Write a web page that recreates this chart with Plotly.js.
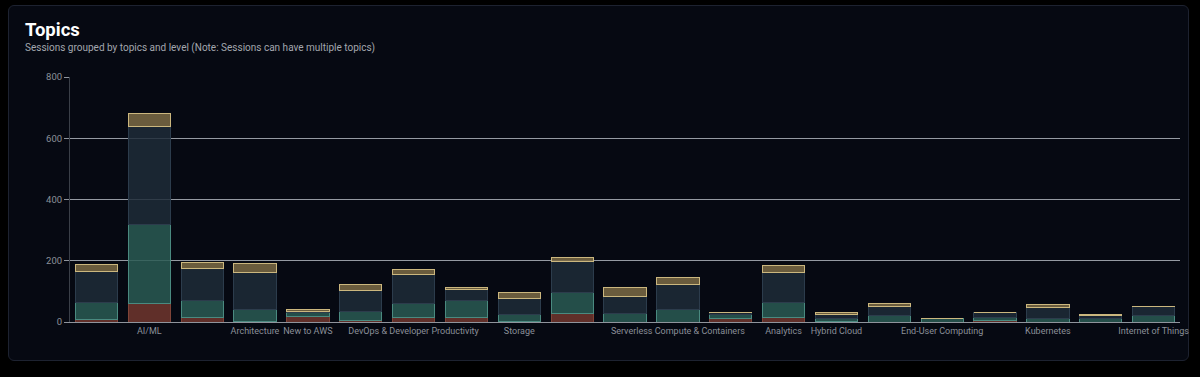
<!DOCTYPE html>
<html>
<head>
<meta charset="utf-8">
<script src="https://cdn.plot.ly/plotly-3.0.1.min.js"></script>
<style>
  html, body { margin:0; padding:0; width:1200px; height:377px; background:#000; overflow:hidden; font-family: Roboto, "Noto Sans", sans-serif; }
  #card { position:absolute; left:8px; top:5px; width:1181px; height:356px; background:#060912; border:1px solid #1d2230; border-radius:6px; box-sizing:border-box; }
  #title { position:absolute; left:25px; top:19px; color:#ffffff; font-size:18.5px; font-weight:700; }
  #sub { position:absolute; left:25px; top:42px; color:#a3a7ae; font-size:10px; }
  #chart { position:absolute; left:0; top:0; width:1200px; height:377px; }
</style>
</head>
<body>
<div id="card"></div>
<div id="title">Topics</div>
<div id="sub">Sessions grouped by topics and level (Note: Sessions can have multiple topics)</div>
<div id="chart"></div>
<script>
const categories = [
  "Migration & Modernization", "AI/ML", "Security, Identity & Compliance", "Architecture",
  "New to AWS", "Cloud Operations", "DevOps & Developer Productivity", "Databases",
  "Storage", "Compute", "Networking & Content Delivery", "Serverless Compute & Containers",
  "Business Applications", "Analytics", "Hybrid Cloud", "Industry Solutions",
  "End-User Computing", "Application Integration", "Kubernetes", "Media & Entertainment",
  "Internet of Things"
];
const tickLabels = ["AI/ML", "Architecture", "New to AWS", "DevOps & Developer Productivity",
  "Storage", "Serverless Compute & Containers", "Analytics", "Hybrid Cloud",
  "End-User Computing", "Kubernetes", "Internet of Things"];

const level100 = [7, 62, 15, 2, 17, 5, 16, 16, 2, 28, 0, 0, 12, 16, 2, 0, 0, 6, 0, 0, 0];
const level200 = [58, 258, 56, 40, 13, 28, 46, 55, 23, 69, 29, 42, 11, 48, 10, 20, 10, 8, 12, 12, 21];
const level300 = [100, 320, 103, 121, 5, 69, 93, 35, 51, 100, 54, 80, 8, 97, 12, 30, 0, 16, 35, 9, 29];
const level400 = [23, 40, 20, 27, 6, 20, 16, 7, 19, 13, 30, 23, 1, 24, 6, 9, 0, 0, 10, 5, 0];

const seriesNames = ["100 - Foundational", "200 - Intermediate", "300 - Advanced", "400 - Expert"];
const seriesValues = [level100, level200, level300, level400];
const fills = ["rgba(106,52,44,0.9)", "rgba(42,90,84,0.85)", "rgba(30,43,56,0.85)", "rgba(118,102,66,0.9)"];
const strokes = ["#804438", "#4a8a80", "#2c3c4c", "#cbb77e"];

const traces = seriesValues.map((vals, i) => ({
  type: "bar",
  name: seriesNames[i],
  x: categories,
  y: vals,
  marker: { color: fills[i], line: { color: strokes[i], width: 1 } },
  hoverinfo: "x+y+name"
}));

const layout = {
  width: 1200, height: 377,
  paper_bgcolor: "rgba(0,0,0,0)",
  plot_bgcolor: "rgba(0,0,0,0)",
  barmode: "stack",
  bargap: 0.2,
  showlegend: false,
  margin: { l: 70, r: 20, t: 77, b: 55 },
  font: { family: "Roboto, 'Noto Sans', sans-serif", color: "#8b9099", size: 9 },
  xaxis: {
    type: "category",
    tickmode: "array",
    tickvals: tickLabels,
    ticktext: tickLabels,
    tickangle: 0,
    showgrid: false,
    showline: true,
    linecolor: "#8f949c",
    linewidth: 1,
    ticks: "",
    tickfont: { size: 9, color: "#8b9099" },
    fixedrange: true
  },
  yaxis: {
    range: [0, 800],
    tickvals: [0, 200, 400, 600, 800],
    showgrid: true,
    gridcolor: "#959aa2",
    gridwidth: 1,
    zeroline: false,
    showline: true,
    linecolor: "#3a3f48",
    linewidth: 1,
    ticks: "outside",
    ticklen: 5,
    tickcolor: "#8f949c",
    tickfont: { size: 9.5, color: "#8b9099" },
    fixedrange: true
  }
};

Plotly.newPlot("chart", traces, layout, { displayModeBar: false, staticPlot: true });
</script>
</body>
</html>
